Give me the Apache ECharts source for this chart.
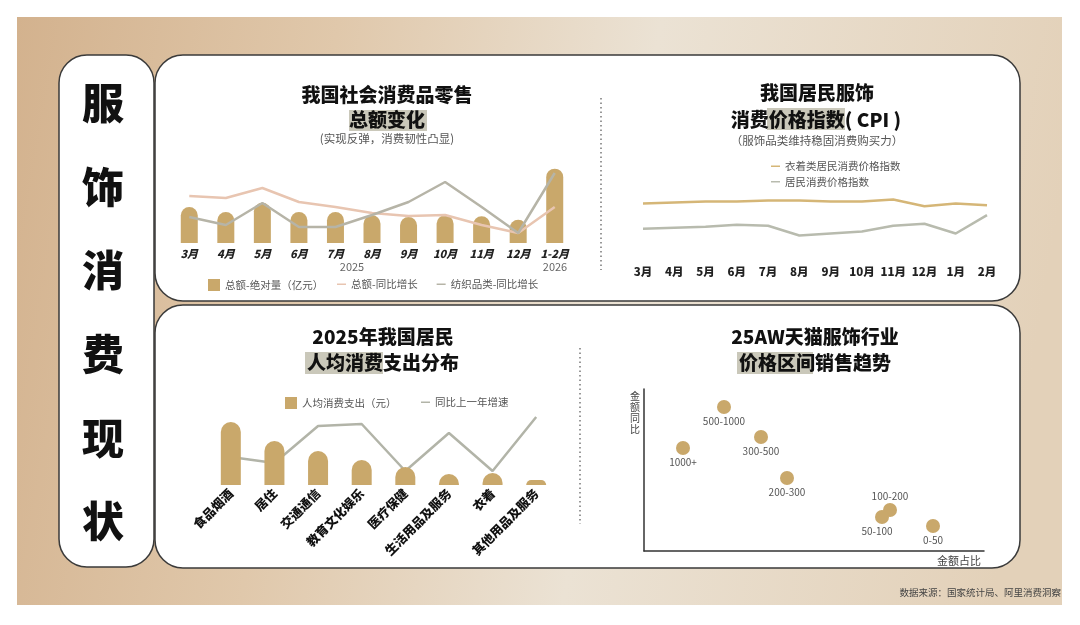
<!DOCTYPE html>
<html>
<head>
<meta charset="utf-8">
<script src="https://cdn.jsdelivr.net/npm/echarts@6/dist/echarts.min.js"></script>
<style>
  html, body { margin: 0; padding: 0; background: #fff; }
  #main { width: 1080px; height: 625px; }
</style>
</head>
<body>
<div id="main"></div>
<script>
// 社零总额
var months1 = ['3月', '4月', '5月', '6月', '7月', '8月', '9月', '10月', '11月', '12月', '1-2月'];
var retailTotal = [41000, 35300, 45900, 35300, 35300, 31500, 29600, 31500, 30300, 26500, 84600];
var retailYoY = [4.7, 4.5, 5.5, 4.1, 3.6, 3.0, 2.7, 2.8, 1.8, 1.0, 3.6];
var textileYoY = [2.6, 1.8, 4.0, 1.6, 1.6, 2.8, 4.1, 6.1, 3.6, 1.0, 7.0];

// CPI
var months2 = ['3月', '4月', '5月', '6月', '7月', '8月', '9月', '10月', '11月', '12月', '1月', '2月'];
var cpiClothing = [2.9, 3.0, 3.1, 3.1, 3.2, 3.2, 3.1, 3.1, 3.3, 2.6, 2.9, 2.7];
var cpiAll = [0.3, 0.4, 0.5, 0.7, 0.6, -0.4, -0.2, 0.0, 0.6, 0.8, -0.2, 1.7];

// 人均消费支出
var spendCats = ['食品烟酒', '居住', '交通通信', '教育文化娱乐', '医疗保健', '生活用品及服务', '衣着', '其他用品及服务'];
var spendValues = [8400, 5870, 4530, 3330, 2400, 1470, 1600, 670];
var spendGrowth = [2.8, 2.2, 5.9, 6.1, 1.4, 5.2, 1.4, 6.8];

// 价格区间
var priceBands = ['1000+', '500-1000', '300-500', '200-300', '100-200', '50-100', '0-50'];
var bandShare = [3.9, 8.0, 11.7, 14.3, 24.6, 23.8, 28.9];
var bandYoY = [4.3, 8.4, 5.4, 1.3, -1.9, -2.6, -3.5];

var FONT = '"Noto Sans CJK SC", "Noto Sans", sans-serif';
var GOLD = '#c9a86b';

var myChart = echarts.init(document.getElementById('main'));

function title(text, x, y) {
    return {
        type: 'text', z: 10,
        style: { text: text, x: x, y: y, align: 'center', verticalAlign: 'middle',
                 fontFamily: FONT, fontSize: 19, fontWeight: 900, fill: '#111' }
    };
}
function sub(text, x, y) {
    return {
        type: 'text', z: 10,
        style: { text: text, x: x, y: y, align: 'center', verticalAlign: 'middle',
                 fontFamily: FONT, fontSize: 11.5, fill: '#555' }
    };
}
function mark(x, y, w, h) {
    return { type: 'rect', z: 5, shape: { x: x, y: y, width: w, height: h },
             style: { fill: 'rgba(150,146,118,0.5)' } };
}
function panel(x, y, w, h) {
    return { type: 'rect', z: 1, shape: { x: x, y: y, width: w, height: h, r: 28 },
             style: { fill: '#fff', stroke: '#3a3a3a', lineWidth: 1.5 } };
}
function dotted(x, y1, y2) {
    return { type: 'line', z: 5, shape: { x1: x, y1: y1, x2: x, y2: y2 },
             style: { stroke: '#777', lineWidth: 1.5, lineDash: [1.5, 3] } };
}

var graphics = [
    {
        type: 'rect', z: 0, shape: { x: 17, y: 17, width: 1045, height: 588 },
        style: {
            fill: new echarts.graphic.LinearGradient(0, 0, 1, 0.3, [
                { offset: 0, color: '#d3b28e' },
                { offset: 0.3, color: '#e0c8ab' },
                { offset: 0.6, color: '#ebe2d4' },
                { offset: 1, color: '#e3d1b9' }
            ])
        }
    },
    panel(59, 55, 95, 512),
    panel(155, 55, 865, 246),
    panel(155, 305, 865, 263),
    dotted(601, 98, 270),
    dotted(580, 348, 524),
    mark(349, 110, 78, 21),
    mark(767, 108, 78, 22),
    mark(305, 352, 78, 22),
    mark(737, 352, 76, 22),
    title('我国社会消费品零售', 387, 95),
    title('总额变化', 387, 120),
    sub('(实现反弹，消费韧性凸显)', 387, 139),
    title('我国居民服饰', 817, 93),
    title('消费价格指数( CPI )', 816, 120),
    sub('（服饰品类维持稳固消费购买力）', 817, 141),
    title('2025年我国居民', 383, 337),
    title('人均消费支出分布', 383, 363),
    title('25AW天猫服饰行业', 815, 337),
    title('价格区间销售趋势', 815, 363),
    { type: 'text', z: 10, style: { text: '2025', x: 352, y: 267, align: 'center', verticalAlign: 'middle', fontFamily: FONT, fontSize: 11, fill: '#666' } },
    { type: 'text', z: 10, style: { text: '2026', x: 555, y: 267, align: 'center', verticalAlign: 'middle', fontFamily: FONT, fontSize: 11, fill: '#666' } },
    { type: 'text', z: 10, style: { text: '数据来源：国家统计局、阿里消费洞察', x: 1061, y: 592, align: 'right', verticalAlign: 'middle', fontFamily: FONT, fontSize: 9.5, fill: '#444' } }
];
['服', '饰', '消', '费', '现', '状'].forEach(function (c, i) {
    graphics.push({
        type: 'text', z: 10,
        style: { text: c, x: 103, y: 103 + i * 83.7, align: 'center', verticalAlign: 'middle',
                 fontFamily: FONT, fontSize: 42, fontWeight: 900, fill: '#111' }
    });
});

var hiddenY = function (gi, min, max) {
    return { type: 'value', gridIndex: gi, min: min, max: max, show: false };
};
var legendText = { fontSize: 10.5, color: '#555' };

var option = {
    animation: false,
    textStyle: { fontFamily: FONT },
    graphic: graphics,
    legend: [{
        left: 203, top: 274, itemWidth: 12, itemHeight: 12,
        textStyle: legendText, data: [{ name: '总额-绝对量（亿元）', icon: 'rect' }]
    }, {
        left: 332, top: 274, itemWidth: 9, itemHeight: 1.5, itemGap: 19, icon: 'rect',
        textStyle: legendText, data: ['总额-同比增长', '纺织品类-同比增长']
    }, {
        left: 766, top: 156, orient: 'vertical', itemWidth: 9, itemHeight: 1.5, itemGap: 5, icon: 'rect',
        textStyle: legendText, data: ['衣着类居民消费价格指数', '居民消费价格指数']
    }, {
        left: 280, top: 392, itemWidth: 12, itemHeight: 12,
        textStyle: legendText, data: [{ name: '人均消费支出（元）', icon: 'rect' }]
    }, {
        left: 416, top: 392, itemWidth: 9, itemHeight: 1.5, icon: 'rect',
        textStyle: legendText, data: ['同比上一年增速']
    }],
    grid: [
        { left: 171, top: 163, width: 402, height: 80 },
        { left: 643, top: 183, width: 344, height: 68 },
        { left: 209, top: 410, width: 349, height: 75 },
        { left: 644, top: 389, width: 340, height: 162 }
    ],
    xAxis: [{
        type: 'category', gridIndex: 0, data: months1, z: 6,
        axisLine: { show: false }, axisTick: { show: false },
        axisLabel: { margin: 5, interval: 0, color: '#222', fontSize: 11, fontWeight: 900, fontStyle: 'italic' }
    }, {
        type: 'category', gridIndex: 1, data: months2, boundaryGap: false, z: 6,
        axisLine: { show: false }, axisTick: { show: false },
        axisLabel: { margin: 15, interval: 0, color: '#222', fontSize: 11.5, fontWeight: 900 }
    }, {
        type: 'category', gridIndex: 2, data: spendCats, z: 6,
        axisLine: { show: false }, axisTick: { show: false },
        axisLabel: { margin: 6, rotate: 45, interval: 0, color: '#111', fontSize: 12.5, fontWeight: 900 }
    }, {
        type: 'value', gridIndex: 3, min: 0, max: 34, z: 6,
        name: '金额占比', nameLocation: 'end', nameGap: -3,
        nameTextStyle: { align: 'right', verticalAlign: 'top', padding: [4, 0, 0, 0], fontSize: 11, color: '#444' },
        axisLine: { show: true, onZero: false, lineStyle: { color: '#333', width: 1.5 } },
        axisTick: { show: false }, axisLabel: { show: false }, splitLine: { show: false }
    }],
    yAxis: [
        hiddenY(0, 0, 91000),
        hiddenY(0, 0, 8),
        hiddenY(1, -2, 5),
        hiddenY(2, 0, 10000),
        hiddenY(2, 0, 7.5),
        {
            type: 'value', gridIndex: 3, min: -6, max: 10.2, z: 6,
            name: '金\n额\n同\n比', nameLocation: 'end', nameGap: -2,
            nameTextStyle: { align: 'right', verticalAlign: 'top', padding: [0, 4, 0, 0], fontSize: 10, lineHeight: 11, color: '#444' },
            axisLine: { show: true, onZero: false, lineStyle: { color: '#333', width: 1.5 } },
            axisTick: { show: false }, axisLabel: { show: false }, splitLine: { show: false }
        }
    ],
    series: [{
        name: '总额-绝对量（亿元）', type: 'bar', xAxisIndex: 0, yAxisIndex: 0,
        barWidth: 17, data: retailTotal,
        itemStyle: { color: GOLD, borderRadius: [8.5, 8.5, 0, 0] }
    }, {
        name: '总额-同比增长', type: 'line', xAxisIndex: 0, yAxisIndex: 1,
        data: retailYoY, symbol: 'none', color: '#e8c5b1',
        lineStyle: { width: 2.5, color: '#e8c5b1' }
    }, {
        name: '纺织品类-同比增长', type: 'line', xAxisIndex: 0, yAxisIndex: 1,
        data: textileYoY, symbol: 'none', color: '#b6b4a7',
        lineStyle: { width: 2.5, color: '#b6b4a7' }
    }, {
        name: '衣着类居民消费价格指数', type: 'line', xAxisIndex: 1, yAxisIndex: 2,
        data: cpiClothing, symbol: 'none', color: '#d5b677',
        lineStyle: { width: 2.5, color: '#d5b677' }
    }, {
        name: '居民消费价格指数', type: 'line', xAxisIndex: 1, yAxisIndex: 2,
        data: cpiAll, symbol: 'none', color: '#b8bbae',
        lineStyle: { width: 2.5, color: '#b8bbae' }
    }, {
        name: '人均消费支出（元）', type: 'bar', xAxisIndex: 2, yAxisIndex: 3, z: 3,
        barWidth: 20, data: spendValues,
        itemStyle: { color: GOLD, borderRadius: [10, 10, 0, 0] }
    }, {
        name: '同比上一年增速', type: 'line', xAxisIndex: 2, yAxisIndex: 4, z: 2,
        data: spendGrowth, symbol: 'none', color: '#b2b4a8',
        lineStyle: { width: 2.5, color: '#b2b4a8' }
    }, {
        type: 'scatter', xAxisIndex: 3, yAxisIndex: 5, symbolSize: 14,
        itemStyle: { color: GOLD, opacity: 1 },
        label: {
            show: true, position: 'bottom', distance: 2, fontSize: 10, color: '#555',
            formatter: function (p) { return p.value[2]; }
        },
        data: priceBands.map(function (b, i) {
            var d = { value: [bandShare[i], bandYoY[i], b] };
            if (b === '100-200') d.label = { position: 'top' };
            if (b === '50-100') d.label = { position: 'bottom', offset: [-5, 0] };
            return d;
        })
    }]
};

myChart.setOption(option);
</script>
</body>
</html>
